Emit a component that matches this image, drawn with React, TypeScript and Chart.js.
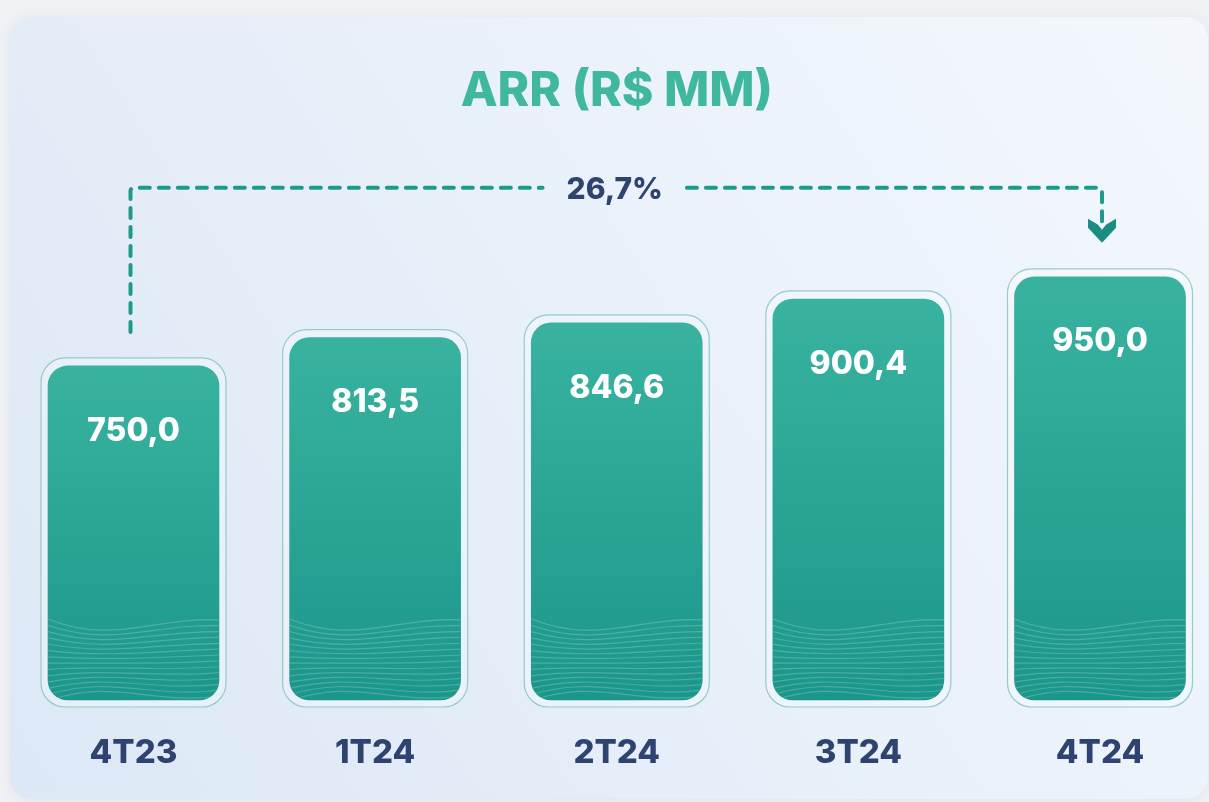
import React, { useEffect, useRef } from 'react';
import { Chart, registerables } from 'chart.js';

Chart.register(...registerables);

const titleText = 'ARR (R$ MM)';
const categories = ['4T23', '1T24', '2T24', '3T24', '4T24'];
const arrValues = [750.0, 813.5, 846.6, 900.4, 950.0];
const valueLabels = ['750,0', '813,5', '846,6', '900,4', '950,0'];
const growthLabel = '26,7%';

const FONT = 'Inter, "Liberation Sans", Arial, sans-serif';
const NAVY = '#2f4370';
const TEAL_TITLE = '#40b8a0';
const DASH = '#1f9a8a';

function roundRect(ctx: CanvasRenderingContext2D, x: number, y: number, w: number, h: number, r: number) {
  ctx.beginPath();
  ctx.moveTo(x + r, y);
  ctx.arcTo(x + w, y, x + w, y + h, r);
  ctx.arcTo(x + w, y + h, x, y + h, r);
  ctx.arcTo(x, y + h, x, y, r);
  ctx.arcTo(x, y, x + w, y, r);
  ctx.closePath();
}

const cardPlugin = {
  id: 'card',
  beforeDraw(chart: any) {
    const { ctx, width, height } = chart;
    ctx.save();
    ctx.fillStyle = '#f1f2f5';
    ctx.fillRect(0, 0, width, height);
    ctx.shadowColor = 'rgba(30,50,90,0.08)';
    ctx.shadowBlur = 14;
    ctx.shadowOffsetY = 2;
    const g = ctx.createLinearGradient(10, 800, 1209, 17);
    g.addColorStop(0, '#dce8f6');
    g.addColorStop(1, '#f4f8fd');
    ctx.fillStyle = g;
    roundRect(ctx, 10, 17, 1198, 782, 22);
    ctx.fill();
    ctx.restore();
  },
};

const barFramePlugin = {
  id: 'barFrame',
  beforeDatasetsDraw(chart: any) {
    const { ctx } = chart;
    const meta = chart.getDatasetMeta(0);
    ctx.save();
    meta.data.forEach((el: any) => {
      const { x, y, base, width } = el.getProps(['x', 'y', 'base', 'width'], true);
      roundRect(ctx, x - width / 2 - 7, y - 8, width + 14, base - y + 15, 24);
      ctx.fillStyle = 'rgba(255,255,255,0.28)';
      ctx.fill();
      ctx.lineWidth = 1.2;
      ctx.strokeStyle = '#95cbc8';
      ctx.stroke();
    });
    ctx.restore();
  },
};

const wavesAndValuesPlugin = {
  id: 'wavesValues',
  afterDatasetsDraw(chart: any) {
    const { ctx } = chart;
    const meta = chart.getDatasetMeta(0);
    meta.data.forEach((el: any, i: number) => {
      const { x, y, base, width } = el.getProps(['x', 'y', 'base', 'width'], true);
      const L = x - width / 2;
      const R = x + width / 2;
      const W = width;
      ctx.save();
      roundRect(ctx, L, y, W, base - y, 20);
      ctx.clip();
      ctx.strokeStyle = 'rgba(255,255,255,0.2)';
      ctx.lineWidth = 1.2;
      for (let k = 0; k < 14; k++) {
        const yl = base - 83 + k * 6.6;
        const yr = base - 80 + k * 5.8;
        const d1 = 30 - k * 4.4;
        const d2 = -22 + k * 1.2;
        ctx.beginPath();
        ctx.moveTo(L - 5, yl);
        ctx.bezierCurveTo(L + 0.38 * W, yl + d1, L + 0.6 * W, yr + d2 + 18, R + 5, yr);
        ctx.stroke();
      }
      ctx.restore();

      ctx.save();
      ctx.fillStyle = '#ffffff';
      ctx.font = `800 32px ${FONT}`;
      ctx.textAlign = 'center';
      ctx.textBaseline = 'middle';
      ctx.fillText(valueLabels[i], x, y + 65);
      ctx.restore();
    });
  },
};

const bracketPlugin = {
  id: 'bracket',
  afterDraw(chart: any) {
    const { ctx } = chart;
    const data = chart.getDatasetMeta(0).data;
    const first = data[0];
    const last = data[data.length - 1];
    const lx = first.x - 3;
    const rx = last.x + 2;
    const lineY = last.y - 89;
    const leftBottom = first.y - 34;
    const arrowTop = last.y - 58;
    const cx = (first.x + last.x) / 2 - 2;

    ctx.save();
    ctx.font = `800 30px ${FONT}`;
    const tw = ctx.measureText(growthLabel).width;
    const textL = cx - tw / 2 - 24;
    const textR = cx + tw / 2 + 24;

    ctx.strokeStyle = DASH;
    ctx.lineWidth = 4;
    ctx.lineCap = 'round';
    ctx.lineJoin = 'round';
    ctx.setLineDash([10, 9]);
    ctx.beginPath();
    ctx.moveTo(lx, leftBottom);
    ctx.arcTo(lx, lineY, lx + 10, lineY, 3);
    ctx.lineTo(textL, lineY);
    ctx.stroke();

    ctx.beginPath();
    ctx.moveTo(textR, lineY);
    ctx.arcTo(rx, lineY, rx, lineY + 10, 3);
    ctx.lineTo(rx, arrowTop + 8);
    ctx.stroke();
    ctx.setLineDash([]);

    ctx.fillStyle = '#1a8c80';
    ctx.beginPath();
    ctx.moveTo(rx - 14, arrowTop);
    ctx.lineTo(rx - 4, arrowTop + 6);
    ctx.lineTo(rx, arrowTop + 11);
    ctx.lineTo(rx + 4, arrowTop + 6);
    ctx.lineTo(rx + 14, arrowTop);
    ctx.lineTo(rx + 14, arrowTop + 9);
    ctx.lineTo(rx, arrowTop + 24);
    ctx.lineTo(rx - 14, arrowTop + 9);
    ctx.closePath();
    ctx.fill();

    ctx.fillStyle = NAVY;
    ctx.textAlign = 'center';
    ctx.textBaseline = 'middle';
    ctx.fillText(growthLabel, cx, lineY + 2);
    ctx.restore();
  },
};

export default function App() {
  const ref = useRef<HTMLCanvasElement | null>(null);

  useEffect(() => {
    if (!ref.current) return;
    const chart = new Chart(ref.current, {
      type: 'bar',
      data: {
        labels: categories,
        datasets: [
          {
            data: arrValues,
            backgroundColor: (c: any) => {
              const ch = c.chart;
              const { ctx, chartArea, scales } = ch;
              if (!chartArea || c.raw == null) return '#2aa595';
              const top = scales.y.getPixelForValue(c.raw);
              const bottom = scales.y.getPixelForValue(0);
              const g = ctx.createLinearGradient(0, top, 0, bottom);
              g.addColorStop(0, '#39b3a0');
              g.addColorStop(1, '#1b968a');
              return g;
            },
            borderWidth: 0,
            borderRadius: 20,
            borderSkipped: false,
            barThickness: 171,
            clip: false as any,
          },
        ],
      },
      options: {
        responsive: false,
        animation: false,
        devicePixelRatio: 1,
        layout: { padding: { left: 133.5, right: 109, top: 0, bottom: 0 } },
        plugins: {
          legend: { display: false },
          tooltip: { enabled: false },
          title: {
            display: true,
            text: titleText,
            color: TEAL_TITLE,
            font: { family: FONT, size: 48, weight: '800' as any, lineHeight: 1.2 },
            padding: { top: 63, bottom: 134 },
          },
        },
        scales: {
          x: {
            offset: false,
            grid: { display: false, drawTicks: false },
            border: { display: false },
            ticks: {
              color: NAVY,
              font: { family: FONT, size: 33, weight: '800' as any, lineHeight: 1.2 },
              padding: 33,
              autoSkip: false,
              maxRotation: 0,
            },
            afterFit: (scale: any) => {
              scale.height = 102;
            },
          },
          y: {
            display: false,
            min: 0,
            max: 1000,
          },
        },
      },
      plugins: [cardPlugin, barFramePlugin, wavesAndValuesPlugin, bracketPlugin],
    });
    return () => chart.destroy();
  }, []);

  return (
    <div style={{ position: 'fixed', left: 0, top: 0, width: 1209, height: 802 }}>
      <canvas ref={ref} width={1209} height={802} style={{ display: 'block' }} />
    </div>
  );
}
